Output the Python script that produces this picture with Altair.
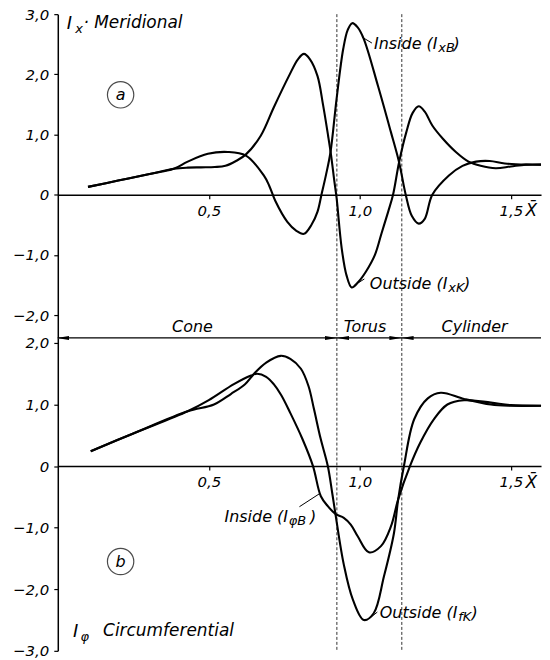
import altair as alt
import pandas as pd

# ---------------- data ----------------
# Panel (a): meridional I_x
a_out_x = [0.10, 0.20, 0.30, 0.384, 0.43, 0.474, 0.52, 0.555, 0.59, 0.623, 0.672, 0.715, 0.765, 0.795, 0.815,
           0.835, 0.86, 0.878, 0.895, 0.905, 0.915, 0.923, 0.94, 0.956, 0.973, 0.995, 1.02, 1.05, 1.072,
           1.094, 1.11, 1.13, 1.154, 1.175, 1.195, 1.215, 1.24, 1.275, 1.318, 1.36, 1.40, 1.45, 1.50, 1.55, 1.60]
a_out_y = [0.13, 0.235, 0.34, 0.43, 0.45, 0.455, 0.46, 0.48, 0.56, 0.67, 0.98, 1.45, 1.97, 2.25, 2.34,
           2.25, 1.97, 1.5, 0.98, 0.65, 0.25, -0.05, -0.89, -1.34, -1.54, -1.45, -1.28, -1.0, -0.64,
           -0.28, 0.0, 0.54, 1.04, 1.36, 1.47, 1.38, 1.15, 0.93, 0.71, 0.55, 0.48, 0.44, 0.47, 0.5, 0.5]

a_in_x = [0.10, 0.20, 0.30, 0.384, 0.43, 0.497, 0.563, 0.623, 0.682, 0.70, 0.72, 0.76, 0.79, 0.815,
          0.84, 0.86, 0.873, 0.888, 0.903, 0.923, 0.945, 0.96, 0.975, 0.993, 1.013, 1.06, 1.103, 1.13,
          1.152, 1.172, 1.195, 1.215, 1.24, 1.295, 1.34, 1.385, 1.43, 1.48, 1.55, 1.60]
a_in_y = [0.13, 0.235, 0.34, 0.43, 0.55, 0.68, 0.71, 0.65, 0.32, 0.15, -0.1, -0.45, -0.6, -0.65,
          -0.5, -0.28, 0.0, 0.33, 0.71, 1.59, 2.42, 2.74, 2.85, 2.78, 2.59, 1.81, 1.04, 0.54,
          0.0, -0.35, -0.48, -0.4, 0.0, 0.32, 0.48, 0.55, 0.56, 0.52, 0.5, 0.5]

# Panel (b): circumferential I_phi
b_in_x = [0.109, 0.25, 0.43, 0.50, 0.583, 0.64, 0.66, 0.69, 0.715, 0.74, 0.77, 0.81, 0.845, 0.871,
          0.894, 0.92, 0.947, 0.97, 0.993, 1.03, 1.07, 1.103, 1.127, 1.166, 1.2, 1.245, 1.29, 1.345,
          1.434, 1.5, 1.6]
b_in_y = [0.24, 0.53, 0.89, 1.07, 1.33, 1.47, 1.5, 1.45, 1.33, 1.15, 0.86, 0.44, 0.0, -0.49,
          -0.65, -0.78, -0.84, -0.95, -1.14, -1.4, -1.3, -0.98, -0.54, 0.0, 0.38, 0.76, 1.0, 1.07,
          1.03, 0.99, 0.98]

b_out_x = [0.109, 0.25, 0.43, 0.517, 0.573, 0.62, 0.65, 0.69, 0.738, 0.77, 0.805, 0.83, 0.848, 0.87,
           0.894, 0.909, 0.92, 0.947, 0.977, 1.013, 1.046, 1.08, 1.113, 1.127, 1.146, 1.18, 1.225,
           1.268, 1.345, 1.434, 1.5, 1.6]
b_out_y = [0.24, 0.53, 0.89, 1.0, 1.17, 1.33, 1.5, 1.68, 1.79, 1.74, 1.58, 1.3, 0.93, 0.45,
           0.0, -0.45, -0.8, -1.6, -2.17, -2.5, -2.39, -1.79, -1.09, -0.54, 0.0, 0.76, 1.1,
           1.19, 1.09, 1.0, 0.98, 0.98]

boundary_x = [0.924, 1.139]
section_names = ["Cone", "Torus", "Cylinder"]
section_mid = [0.446, 1.017, 1.38]
arrow_x = [0.017, 0.905, 0.944, 1.118, 1.158]
arrow_dir = ["left", "right", "left", "right", "left"]

x_ticks = [0.5, 1.0, 1.5]
top_y_ticks = [-2, -1, 0, 1, 2, 3]
bot_y_ticks = [-3, -2, -1, 0, 1, 2]

# ---------------- layout / style ----------------
FONT = "DejaVu Sans"
W = 485
H_TOP, H_BOT = 325, 314
XDOM = [0, 1.6]
TOP_DOM = [-2.38, 3.0]
BOT_DOM = [-3.0, 2.08]
LABEL_EXPR = "datum.value == 0 ? '0' : replace(format(datum.value, '.1f'), '.', ',')"


def enc_x(dom, h, field="x"):
    off = -h * (0 - dom[0]) / (dom[1] - dom[0])
    return alt.X(f"{field}:Q", scale=alt.Scale(domain=XDOM, nice=False, zero=False),
                 axis=alt.Axis(values=x_ticks, labelExpr=LABEL_EXPR, offset=off, title=None, grid=False,
                               domainColor="black", domainWidth=1.5, tickColor="black", tickSize=4,
                               tickWidth=1.2, labelFont=FONT, labelFontStyle="italic", labelFontSize=15,
                               labelPadding=5, labelColor="black"))


def enc_y(dom, vals, field="y"):
    return alt.Y(f"{field}:Q", scale=alt.Scale(domain=dom, nice=False, zero=False),
                 axis=alt.Axis(values=vals, labelExpr=LABEL_EXPR, title=None, grid=False,
                               domainColor="black", domainWidth=1.5, tickColor="black", tickSize=4,
                               tickWidth=1.2, labelFont=FONT, labelFontStyle="italic", labelFontSize=15,
                               labelPadding=5, labelColor="black", minExtent=45, maxExtent=45))


def curves(series):
    rows = []
    for name, xs, ys in series:
        rows += [{"s": name, "x": a, "y": b} for a, b in zip(xs, ys)]
    return pd.DataFrame(rows)


def texts(items, dom, h, vals):
    layers = []
    for it in items:
        df = pd.DataFrame([{"x": it["x"], "y": it["y"], "t": it["t"]}])
        layers.append(alt.Chart(df).mark_text(
            font=FONT, fontStyle="italic", fontSize=it.get("size", 16), align=it.get("align", "left"),
            baseline="middle", dy=it.get("dy", 0), color="black").encode(
            x=enc_x(dom, h), y=enc_y(dom, vals), text="t:N"))
    return layers


def leaders(items, dom, h, vals):
    df = pd.DataFrame(items)
    return alt.Chart(df).mark_rule(color="black", strokeWidth=1).encode(
        x=enc_x(dom, h), y=enc_y(dom, vals), x2="x2:Q", y2="y2:Q")


def panel(series, dom, h, vals, txt, lead, circle, extra=None):
    line = alt.Chart(curves(series)).mark_line(
        interpolate="catmull-rom", color="black", strokeWidth=2.1).encode(
        x=enc_x(dom, h), y=enc_y(dom, vals), detail="s:N")
    vr = alt.Chart(pd.DataFrame({"x": boundary_x})).mark_rule(
        color="#333333", strokeWidth=1, strokeDash=[3, 2]).encode(x=enc_x(dom, h))
    circ = alt.Chart(pd.DataFrame([circle])).mark_point(
        shape="circle", size=700, filled=False, color="black", strokeWidth=1.2).encode(
        x=enc_x(dom, h), y=enc_y(dom, vals))
    layers = [vr, line, leaders(lead, dom, h, vals), circ] + texts(txt, dom, h, vals)
    if extra:
        layers += extra
    return alt.layer(*layers).properties(width=W, height=h)


# ---------------- panel (a) ----------------
top_txt = [
    {"t": "I", "x": 0.03, "y": 2.83, "size": 18},
    {"t": "x", "x": 0.058, "y": 2.83, "size": 13, "dy": 5},
    {"t": "·  Meridional", "x": 0.085, "y": 2.85, "size": 17},
    {"t": "a", "x": 0.208, "y": 1.66, "size": 16, "align": "center"},
    {"t": "Inside (I", "x": 1.257, "y": 2.5, "size": 16, "align": "right"},
    {"t": "xB", "x": 1.26, "y": 2.5, "size": 13, "dy": 4},
    {"t": ")", "x": 1.31, "y": 2.5, "size": 16},
    {"t": "Outside (I", "x": 1.29, "y": -1.49, "size": 16, "align": "right"},
    {"t": "xK", "x": 1.293, "y": -1.49, "size": 13, "dy": 4},
    {"t": ")", "x": 1.345, "y": -1.49, "size": 16},
    {"t": "X\u0304", "x": 1.568, "y": -0.27, "size": 17, "align": "center"},
]
for nm, mx in zip(section_names, section_mid):
    top_txt.append({"t": nm, "x": mx, "y": -2.2, "size": 16, "align": "center"})
top_lead = [
    {"x": 1.007, "y": 2.62, "x2": 1.04, "y2": 2.52},
    {"x": 0.983, "y": -1.5, "x2": 1.015, "y2": -1.4},
]
top = panel([("out", a_out_x, a_out_y), ("in", a_in_x, a_in_y)], TOP_DOM, H_TOP, top_y_ticks,
            top_txt, top_lead, {"x": 0.208, "y": 1.66})

# ---------------- panel (b) ----------------
bot_txt = [
    {"t": "I", "x": 0.05, "y": -2.7, "size": 18},
    {"t": "\u03c6", "x": 0.075, "y": -2.7, "size": 13, "dy": 5},
    {"t": "Circumferential", "x": 0.15, "y": -2.68, "size": 17},
    {"t": "b", "x": 0.208, "y": -1.55, "size": 16, "align": "center"},
    {"t": "Inside (I", "x": 0.762, "y": -0.83, "size": 16, "align": "right"},
    {"t": "\u03c6B", "x": 0.765, "y": -0.83, "size": 13, "dy": 4},
    {"t": ")", "x": 0.835, "y": -0.83, "size": 16},
    {"t": "Outside (I", "x": 1.323, "y": -2.39, "size": 16, "align": "right"},
    {"t": "fK", "x": 1.326, "y": -2.39, "size": 13, "dy": 4},
    {"t": ")", "x": 1.37, "y": -2.39, "size": 16},
    {"t": "X\u0304", "x": 1.568, "y": -0.28, "size": 17, "align": "center"},
]
bot_lead = [
    {"x": 0.80, "y": -0.66, "x2": 0.866, "y2": -0.45},
    {"x": 1.033, "y": -2.47, "x2": 1.058, "y2": -2.37},
]
sec_line = alt.Chart(pd.DataFrame([{"x": XDOM[0], "x2": XDOM[1], "y": BOT_DOM[1]}])).mark_rule(
    color="black", strokeWidth=1.3).encode(
    x=enc_x(BOT_DOM, H_BOT), x2="x2:Q", y=enc_y(BOT_DOM, bot_y_ticks))
arr_df = pd.DataFrame({"x": arrow_x, "d": arrow_dir, "y": [BOT_DOM[1]] * len(arrow_x)})
arrows = []
for d, path in [("right", "M -1 -0.32 L 1 0 L -1 0.32 Z"), ("left", "M 1 -0.32 L -1 0 L 1 0.32 Z")]:
    arrows.append(alt.Chart(arr_df[arr_df["d"] == d]).mark_point(
        shape=path, size=150, filled=True, color="black", opacity=1).encode(
        x=enc_x(BOT_DOM, H_BOT), y=enc_y(BOT_DOM, bot_y_ticks)))
bot = panel([("in", b_in_x, b_in_y), ("out", b_out_x, b_out_y)], BOT_DOM, H_BOT, bot_y_ticks,
            bot_txt, bot_lead, {"x": 0.208, "y": -1.55}, extra=[sec_line] + arrows)

chart = alt.vconcat(top, bot, spacing=0, bounds="flush").resolve_scale(y="independent").properties(
    padding={"left": 12, "top": 6, "right": 4, "bottom": 0}, background="white"
).configure_view(stroke=None)

chart.save("out.html", embed_options={"renderer": "svg", "actions": False})
